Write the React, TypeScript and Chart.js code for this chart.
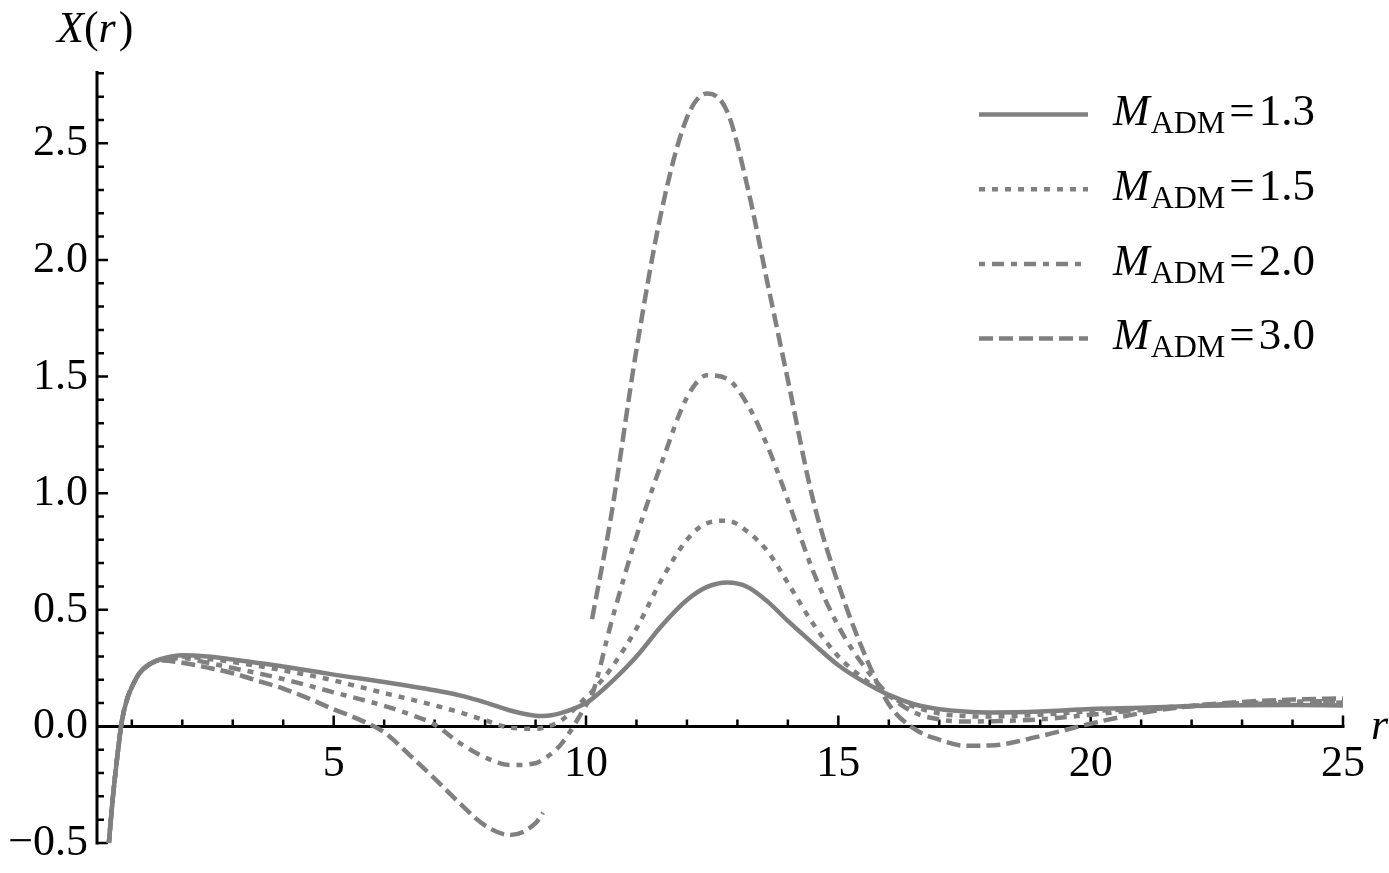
import React, { useEffect, useRef } from 'react';
import { Chart, registerables } from 'chart.js';

Chart.register(...registerables);

// sample radii shared by all four curves
const radius = [
  0.545, 0.62, 0.69, 0.75, 0.8, 0.9, 1.0, 1.15, 1.35, 1.6,
  2.0, 2.5, 3.0, 3.5, 4.0, 4.5, 5.0, 5.5, 6.0, 6.5, 7.0, 7.5, 8.0, 8.5, 9.0, 9.15, 9.5, 10.0, 10.12, 10.5, 11.0, 11.5,
  12.0, 12.4, 12.8, 13.2, 13.6, 14.0, 14.5, 15.0, 15.5, 16.0, 16.5, 17.0, 17.5, 18.0, 19.0, 20.0, 21.0, 22.0, 23.0, 24.0, 25.0,
];

const xAdm13 = [
  -0.5, -0.314, -0.171, -0.06, 0.02, 0.113, 0.168, 0.228, 0.267, 0.29,
  0.305, 0.3, 0.287, 0.272, 0.257, 0.24, 0.222, 0.206, 0.19, 0.173, 0.155, 0.133, 0.103, 0.068, 0.046, 0.045, 0.057, 0.1, 0.118, 0.19, 0.3, 0.432,
  0.542, 0.598, 0.617, 0.598, 0.535, 0.452, 0.355, 0.262, 0.192, 0.135, 0.095, 0.074, 0.064, 0.06, 0.064, 0.075, 0.08, 0.087, 0.091, 0.092, 0.09,
];

const xAdm15 = [
  -0.5, -0.314, -0.171, -0.06, 0.02, 0.113, 0.168, 0.228, 0.267, 0.289,
  0.3, 0.29, 0.276, 0.259, 0.24, 0.22, 0.197, 0.17, 0.143, 0.117, 0.09, 0.06, 0.026, -0.006, -0.01, -0.006, 0.024, 0.125, 0.15, 0.25, 0.42, 0.63,
  0.8, 0.872, 0.882, 0.835, 0.75, 0.615, 0.44, 0.3, 0.205, 0.13, 0.085, 0.055, 0.044, 0.042, 0.05, 0.065, 0.076, 0.088, 0.095, 0.1, 0.102,
];

const xAdm20 = [
  -0.5, -0.314, -0.171, -0.06, 0.02, 0.113, 0.168, 0.228, 0.267, 0.288,
  0.292, 0.273, 0.25, 0.228, 0.203, 0.175, 0.146, 0.118, 0.088, 0.052, 0.008, -0.072, -0.133, -0.166, -0.158, -0.142, -0.078, 0.09, 0.135, 0.445, 0.815, 1.13,
  1.41, 1.505, 1.49, 1.38, 1.2, 0.97, 0.665, 0.43, 0.26, 0.135, 0.06, 0.03, 0.021, 0.022, 0.03, 0.05, 0.07, 0.086, 0.1, 0.106, 0.108,
];

const xAdm30 = [
  -0.5, -0.314, -0.171, -0.06, 0.02, 0.113, 0.168, 0.227, 0.265, 0.282,
  0.273, 0.252, 0.228, 0.195, 0.162, 0.12, 0.073, 0.03, -0.025, -0.122, -0.224, -0.33, -0.425, -0.466, -0.415, -0.37, null, null, 0.46, 0.905, 1.616, 2.213,
  2.61, 2.714, 2.635, 2.313, 1.897, 1.485, 0.97, 0.61, 0.32, 0.095, -0.01, -0.057, -0.083, -0.082, -0.042, 0.012, 0.057, 0.088, 0.105, 0.115, 0.12,
];

const massLabels = ['1.3', '1.5', '2.0', '3.0'];
const seriesValues = [xAdm13, xAdm15, xAdm20, xAdm30];
const lineDashes = [[], [6, 7], [6, 7, 12, 7], [14, 6]];

const xTicks = [5, 10, 15, 20, 25];
const xTickLabels = ['5', '10', '15', '20', '25'];
const yTicks = [-0.5, 0, 0.5, 1, 1.5, 2, 2.5];
const yTickLabels = ['\u22120.5', '0.0', '0.5', '1.0', '1.5', '2.0', '2.5'];

const SERIF = '"Liberation Serif", "Times New Roman", serif';
const GREY = '#808080';

const mathAxes = {
  id: 'mathAxes',
  beforeDatasetsDraw(chart: Chart) {
    const { ctx, chartArea } = chart;
    const xs = chart.scales.x;
    const ys = chart.scales.y;
    const left = chartArea.left;
    const zeroY = ys.getPixelForValue(0);
    ctx.save();
    ctx.strokeStyle = '#000';
    ctx.lineWidth = 3;
    ctx.beginPath();
    ctx.moveTo(left, chartArea.top);
    ctx.lineTo(left, chartArea.bottom + 1.5);
    ctx.moveTo(left - 1.5, zeroY);
    ctx.lineTo(chartArea.right + 1.5, zeroY);
    ctx.stroke();

    ctx.lineWidth = 2.5;
    ctx.beginPath();
    for (let n = 1; n <= 25; n++) {
      const px = xs.getPixelForValue(n);
      const len = n % 5 === 0 ? 11 : 7;
      ctx.moveTo(px, zeroY);
      ctx.lineTo(px, zeroY - len);
    }
    for (let k = -5; k <= 28; k++) {
      const py = ys.getPixelForValue(k / 10);
      const len = k % 5 === 0 ? 11 : 7;
      ctx.moveTo(left, py);
      ctx.lineTo(left + len, py);
    }
    ctx.stroke();
    ctx.restore();
  },
  afterDraw(chart: Chart) {
    const { ctx, chartArea } = chart;
    const xs = chart.scales.x;
    const ys = chart.scales.y;
    const zeroY = ys.getPixelForValue(0);
    ctx.save();
    ctx.fillStyle = '#000';
    ctx.textBaseline = 'alphabetic';

    // tick labels
    ctx.font = `44px ${SERIF}`;
    ctx.textAlign = 'center';
    xTicks.forEach((v, i) => ctx.fillText(xTickLabels[i], xs.getPixelForValue(v), zeroY + 50));
    ctx.textAlign = 'right';
    yTicks.forEach((v, i) => ctx.fillText(yTickLabels[i], chartArea.left - 9, ys.getPixelForValue(v) + 12));

    // axis titles
    ctx.textAlign = 'left';
    let tx = 57;
    const parts: [string, string][] = [['X', 'italic '], ['(', ''], ['r', 'italic '], [')', '']];
    parts.forEach(([s, style]) => {
      ctx.font = `${style}44px ${SERIF}`;
      ctx.fillText(s, tx, 42);
      tx += ctx.measureText(s).width + (s === 'r' ? 3 : 0);
    });
    ctx.font = `italic 44px ${SERIF}`;
    ctx.fillText('r', chartArea.right + 28, zeroY + 13);

    // legend
    massLabels.forEach((m, i) => {
      const rowY = 114.5 + i * 74.7;
      ctx.save();
      ctx.strokeStyle = GREY;
      ctx.lineWidth = 4.5;
      ctx.setLineDash(lineDashes[i]);
      ctx.beginPath();
      ctx.moveTo(979, rowY);
      ctx.lineTo(1088, rowY);
      ctx.stroke();
      ctx.restore();

      const base = rowY + 10.7;
      let lx = 1113;
      ctx.font = `italic 44px ${SERIF}`;
      ctx.fillText('M', lx, base);
      lx += ctx.measureText('M').width + 1;
      ctx.font = `32px ${SERIF}`;
      ctx.fillText('ADM', lx, base + 8);
      lx += ctx.measureText('ADM').width + 4;
      ctx.font = `45px ${SERIF}`;
      ctx.fillText('=', lx, base);
      lx += ctx.measureText('=').width + 4;
      ctx.fillText(m, lx, base);
    });
    ctx.restore();
  },
};

const XrChart: React.FC = () => {
  const canvasRef = useRef<HTMLCanvasElement>(null);
  const chartRef = useRef<Chart>();

  useEffect(() => {
    if (!canvasRef.current) return;
    const datasets = seriesValues.map((vals, i) => ({
      label: `M_ADM=${massLabels[i]}`,
      data: radius.map((r, j) => ({ x: r, y: vals[j] })),
      borderColor: GREY,
      borderWidth: 4.5,
      borderDash: lineDashes[i],
      pointRadius: 0,
      fill: false,
      spanGaps: false,
      cubicInterpolationMode: 'monotone' as const,
      clip: 0,
    }));

    chartRef.current = new Chart(canvasRef.current, {
      type: 'line',
      data: { datasets },
      options: {
        animation: false,
        responsive: true,
        maintainAspectRatio: false,
        layout: { padding: { left: 97, right: 46, top: 71, bottom: 30 } },
        scales: {
          x: { type: 'linear', min: 0.31, max: 25, display: false },
          y: { type: 'linear', min: -0.5, max: 2.81, display: false },
        },
        plugins: {
          legend: { display: false },
          tooltip: { enabled: false },
        },
      },
      plugins: [mathAxes],
    });

    return () => {
      chartRef.current?.destroy();
    };
  }, []);

  return (
    <div style={{ position: 'fixed', left: 0, top: 0, width: 1389, height: 873, background: '#fff' }}>
      <canvas ref={canvasRef} />
    </div>
  );
};

export default function App() {
  return <XrChart />;
}
